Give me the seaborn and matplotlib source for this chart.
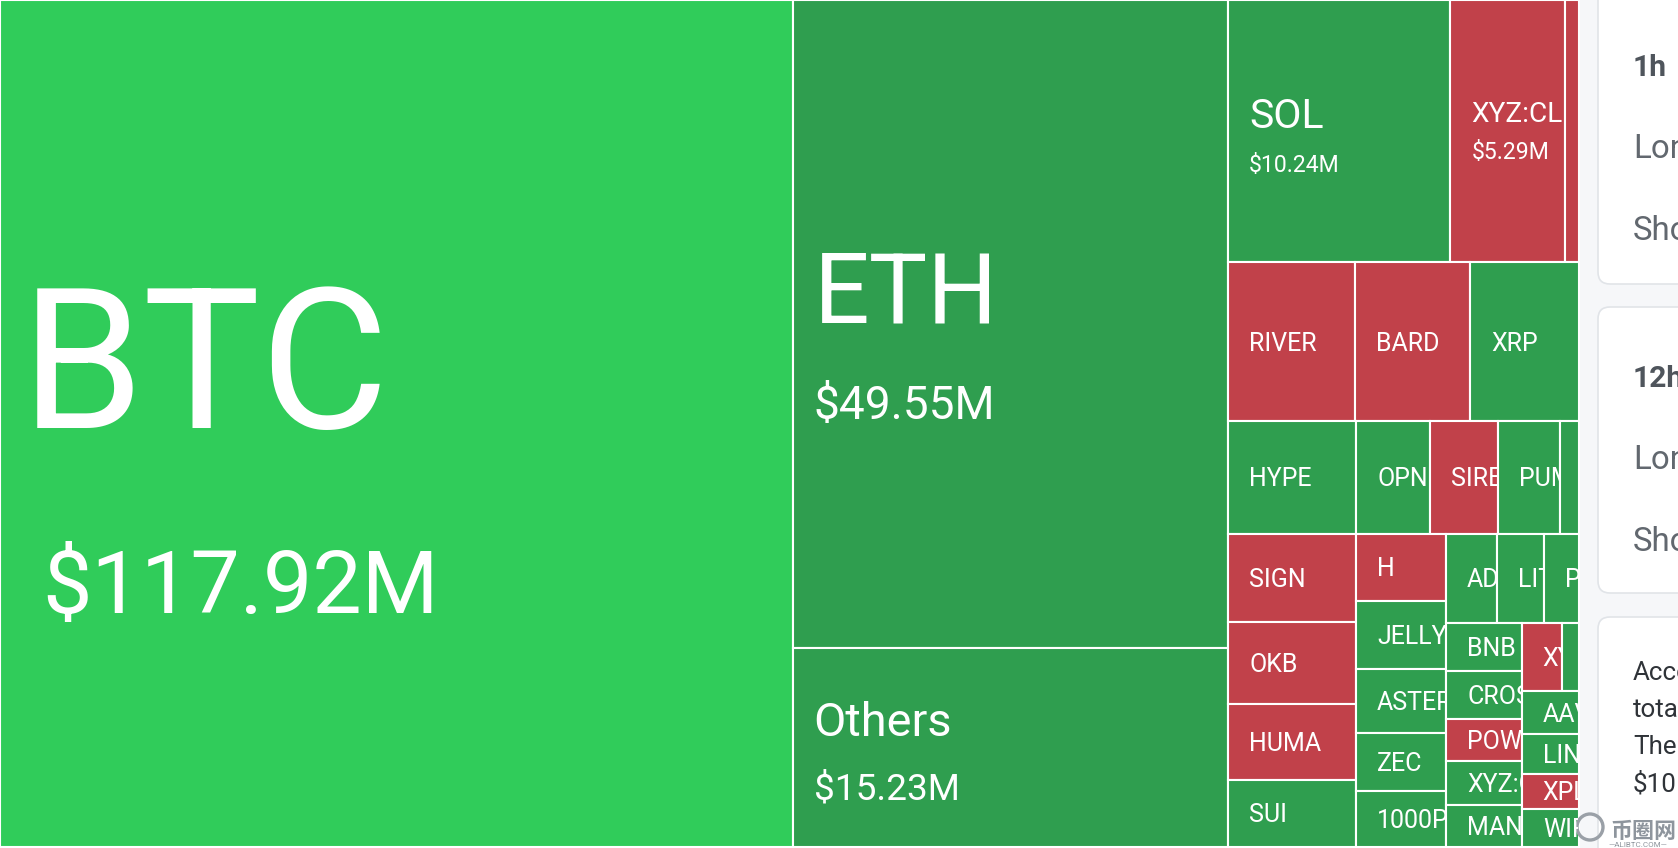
"""Liquidation treemap (coin liquidations, USD millions) with the side summary cards."""
import matplotlib

matplotlib.use("Agg")
import matplotlib.pyplot as plt
import seaborn as sns
from matplotlib.patches import Circle, FancyBboxPatch, Rectangle

# ---- data (tiles in layout order) -------------------------------------------
COINS = [
    "BTC", "ETH", "Others", "SOL", "XYZ:CL", "ZRO", "RIVER", "BARD", "XRP",
    "HYPE", "OPN", "SIREN", "PUMP", "ENA", "SIGN", "OKB", "HUMA", "SUI",
    "H", "JELLYJELLY", "ASTER", "ZEC", "1000PEPE", "ADA", "LIT", "PENGU",
    "BNB", "CROSS", "POWER", "XYZ:GOLD", "MANTA", "XYZ:SILVER", "TAO",
    "AAVE", "LINK", "XPL", "WIF",
]
LIQ_USD_M = [
    117.92, 49.55, 15.23, 10.24, 5.29, 0.63, 3.53, 3.22, 3.04,
    2.53, 1.46, 1.34, 1.22, 0.37, 1.98, 1.84, 1.71, 1.51,
    1.07, 1.07, 1.01, 0.92, 0.88, 0.79, 0.75, 0.54,
    0.64, 0.645, 0.56, 0.58, 0.56, 0.49, 0.20,
    0.43, 0.40, 0.355, 0.38,
]
# 2 = strongly long-dominated, 1 = long-dominated, 0 = short-dominated
SIDE = [
    2, 1, 1, 1, 0, 0, 0, 0, 1,
    1, 1, 0, 1, 1, 0, 0, 0, 1,
    0, 1, 1, 1, 1, 1, 1, 1,
    1, 1, 0, 1, 1, 0, 1,
    1, 1, 0, 1,
]
# strips of the treemap: how many tiles each holds and how it is stacked
STRIP_SIZES = [1, 2, 3, 3, 5, 4, 5, 3, 5, 2, 4]
STRIP_DIRS = ["col", "col", "row", "row", "row", "col", "col", "row", "col", "row", "col"]

CARD_1H = ["1h", "Long", "Short"]
CARD_12H = ["12h", "Long", "Short"]
CARD_NOTE = ["According", "total", "The", "$10"]

# ---- style ---------------------------------------------------------------------
PALETTE = {0: "#C1414A", 1: "#2F9E4F", 2: "#30CC5A"}
# name px, value px, name dy, value dy, value dx (px, from tile centre / left)
BIG_LABELS = {
    "BTC": (197, 88, 4, 189, 42),
    "ETH": (98, 46, -1, 95, 21),
    "Others": (47, 37, -11, 52, 21),
    "SOL": (41, 23, -3, 41, 21),
    "XYZ:CL": (28, 23, -9, 28, 21),
}
SMALL_PX = 25
PT = 0.72  # px -> pt at dpi 100
W, H = 1678, 848
MAP_W, MAP_H = 1579, 847


def strip_layout(values, sizes, dirs, x0, y0, x1, y1):
    rects = []
    remaining = float(sum(values))
    i = 0
    for n, d in zip(sizes, dirs):
        vals = values[i:i + n]
        s = float(sum(vals))
        if d == "col":
            w = (x1 - x0) * s / remaining
            y = y0
            for v in vals:
                h = (y1 - y0) * v / s
                rects.append((x0, y, w, h))
                y += h
            x0 += w
        else:
            h = (y1 - y0) * s / remaining
            x = x0
            for v in vals:
                w = (x1 - x0) * v / s
                rects.append((x, y0, w, h))
                x += w
            y0 += h
        remaining -= s
        i += n
    return rects


def main():
    sns.set_theme(style="white")
    plt.rcParams["font.family"] = ["Roboto", "Noto Sans CJK SC", "DejaVu Sans"]

    fig = plt.figure(figsize=(W / 100, H / 100), dpi=100, facecolor="#F6F7F9")
    ax = fig.add_axes([0, 0, 1, 1])
    ax.set_xlim(0, W)
    ax.set_ylim(H, 0)
    ax.axis("off")

    ax.add_patch(Rectangle((0, 0), MAP_W + 1, H, facecolor="white", edgecolor="none"))

    rects = strip_layout(LIQ_USD_M, STRIP_SIZES, STRIP_DIRS, 0, 0, MAP_W, MAP_H)
    for (x, y, w, h), name, val, side in zip(rects, COINS, LIQ_USD_M, SIDE):
        tile = Rectangle((x, y), w, h, facecolor=PALETTE[side],
                         edgecolor="white", linewidth=1.5)
        ax.add_patch(tile)
        if w < 30:
            continue
        cy = y + h / 2
        texts = []
        if name in BIG_LABELS:
            nfs, vfs, ndy, vdy, vdx = BIG_LABELS[name]
            texts.append(ax.text(x + 21, cy + ndy, name, fontsize=nfs * PT,
                                 color="white", va="baseline", ha="left"))
            texts.append(ax.text(x + vdx, cy + vdy, f"${val:.2f}M", fontsize=vfs * PT,
                                 color="white", va="baseline", ha="left"))
        else:
            texts.append(ax.text(x + 21, cy + 0.71 * SMALL_PX / 2, name,
                                 fontsize=SMALL_PX * PT, color="white",
                                 va="baseline", ha="left"))
        # long names are cut at the tile border, as in the web widget
        clip = Rectangle((x + 1, y + 1), w - 2, h - 2, transform=ax.transData)
        for t in texts:
            t.set_clip_on(True)
            t.set_clip_path(clip)

    # side cards
    card_kw = dict(boxstyle="round,pad=0,rounding_size=12", facecolor="white",
                   edgecolor="#E1E4E8", linewidth=1.2)
    ax.add_patch(FancyBboxPatch((1598, -30), 200, 314, **card_kw))
    ax.add_patch(FancyBboxPatch((1598, 307), 200, 286, **card_kw))
    ax.add_patch(FancyBboxPatch((1598, 617), 200, 300, **card_kw))

    for lines, top in ((CARD_1H, 76), (CARD_12H, 387)):
        ax.text(1633, top, lines[0], fontsize=30 * PT, fontweight="bold",
                color="#4F555C", va="baseline")
        ax.text(1633, top + 82, lines[1], fontsize=33 * PT, color="#62686F", va="baseline")
        ax.text(1633, top + 164, lines[2], fontsize=33 * PT, color="#62686F", va="baseline")
    for k, line in enumerate(CARD_NOTE):
        ax.text(1633, 680 + 37 * k, line, fontsize=26 * PT, color="#2F3338", va="baseline")

    # watermark
    ax.add_patch(Circle((1590, 827), 13, fill=False, edgecolor="#9AA0A7", linewidth=2.4))
    ax.text(1610, 838, "币圈网", fontsize=22 * PT, fontweight="bold", color="#8E959D",
            va="baseline", family=["Noto Sans CJK SC", "DejaVu Sans"])
    ax.text(1608, 847, "—ALIBTC.COM—", fontsize=8 * PT, color="#8E959D", va="baseline")

    fig.savefig("out.png", dpi=100, facecolor=fig.get_facecolor())
    plt.close(fig)


if __name__ == "__main__":
    main()
